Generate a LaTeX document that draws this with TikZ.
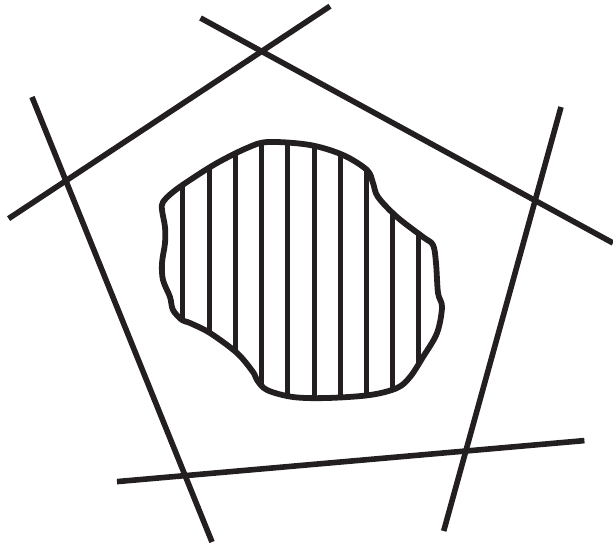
\documentclass[tikz,border=0pt]{standalone}
\definecolor{ink}{RGB}{35,31,32}
\begin{document}
\begin{tikzpicture}[x=1pt,y=-1pt,
  bigline/.style={draw=ink,line width=5.6pt},
  hatch/.style={draw=ink,line width=5pt},
  outline/.style={draw=ink,line width=5.8pt,line join=round}]
\useasboundingbox (0,0) rectangle (613,544);
% five straight lines
\draw[bigline] (8.6,218.6) -- (330,6.2);
\draw[bigline] (200.5,18) -- (613,243);
\draw[bigline] (32,97) -- (212,542);
\draw[bigline] (561,107) -- (443.7,531);
\draw[bigline] (117,481.6) -- (584.4,440.6);
% blob
\def\blob{plot[smooth cycle,tension=0.55] coordinates {
 (268,142) (310,145) (343,155) (367,170) (373,183) (378,197) (397,217)
 (423,237) (433,245) (436,263) (438,293) (442,307) (437,333) (423,357)
 (410,377) (397,388) (370,395) (327,398) (293,397) (267,390) (257,380)
 (253,372) (237,353) (210,333) (190,323) (182,320) (173,310) (170,297)
 (163,280) (162,263) (165,243) (165,227) (162,210) (163,202) (173,192)
 (190,180) (217,163) (247,148)}}
\begin{scope}
\clip \blob;
\foreach \x in {182.7,209.3,235.3,261.7,287.7,314,340.7,366.7,392.7,418.7}
  \draw[hatch] (\x,130) -- (\x,410);
\end{scope}
\draw[outline] \blob;
\end{tikzpicture}
\end{document}
